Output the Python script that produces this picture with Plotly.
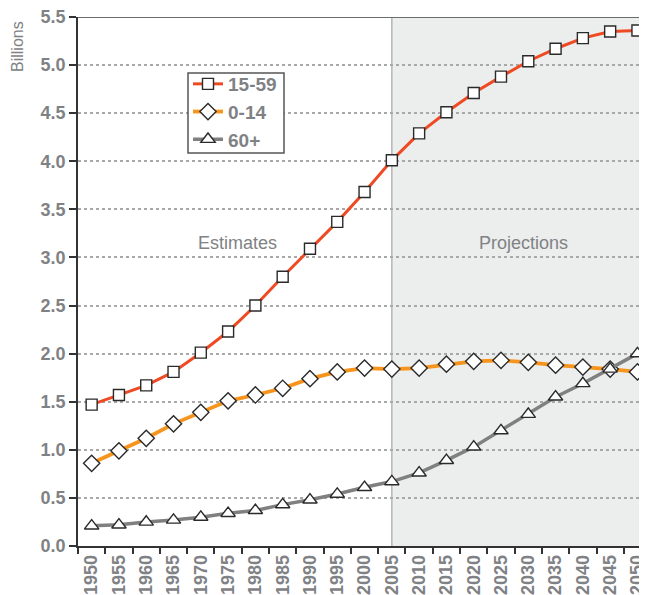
import plotly.graph_objects as go

years = [str(y) for y in range(1950, 2051, 5)]
age_15_59 = [1.47, 1.57, 1.67, 1.81, 2.01, 2.23, 2.50, 2.80, 3.09, 3.37, 3.68,
             4.01, 4.29, 4.51, 4.71, 4.88, 5.04, 5.17, 5.28, 5.35, 5.36]
age_0_14 = [0.86, 0.99, 1.12, 1.27, 1.39, 1.51, 1.57, 1.64, 1.74, 1.81, 1.85,
            1.84, 1.85, 1.89, 1.92, 1.93, 1.91, 1.88, 1.86, 1.84, 1.81]
age_60p = [0.21, 0.22, 0.25, 0.27, 0.30, 0.34, 0.37, 0.43, 0.48, 0.54, 0.61,
           0.67, 0.76, 0.89, 1.03, 1.20, 1.37, 1.55, 1.69, 1.84, 2.00]
y_ticks = [0.0, 0.5, 1.0, 1.5, 2.0, 2.5, 3.0, 3.5, 4.0, 4.5, 5.0, 5.5]

label_color = "#7f8285"
mk_line = dict(color="#2a2a2a", width=1.4)

# page body has an 8px margin; size the figure so it fits the window exactly
OFF = 8
W, H = 647 - OFF, 595 - OFF
px_left, px_right, px_top, px_bottom = 78, 647, 17, 546
L = px_left - OFF
T = px_top - OFF
R = W - (px_right - OFF)
B = H - (px_bottom - OFF)
pw = px_right - px_left
ph = px_bottom - px_top


def px(xs):
    return (xs - px_left) / pw


def py(ys):
    return (px_bottom - ys) / ph


fig = go.Figure()
fig.add_trace(go.Scatter(
    x=years, y=age_15_59, name="15-59", mode="lines+markers",
    line=dict(color="#EE4B24", width=3),
    marker=dict(symbol="square", size=11, color="white", line=mk_line)))
fig.add_trace(go.Scatter(
    x=years, y=age_0_14, name="0-14", mode="lines+markers",
    line=dict(color="#F7941D", width=3.8),
    marker=dict(symbol="diamond", size=12.5, color="white", line=mk_line)))
fig.add_trace(go.Scatter(
    x=years, y=age_60p, name="60+", mode="lines+markers",
    line=dict(color="#808080", width=3.5),
    marker=dict(symbol="triangle-up", size=12.5, color="white", line=mk_line)))

idx2005 = years.index("2005")
fig.add_shape(type="rect", xref="x", yref="y", x0=idx2005, x1=25, y0=0, y1=5.5,
              fillcolor="#ECEDED", line_width=0, layer="below")
fig.add_shape(type="line", xref="x", yref="y", x0=idx2005, x1=idx2005, y0=0, y1=5.5,
              line=dict(color="#b5b5b5", width=1.5), layer="below")
fig.add_shape(type="line", xref="paper", yref="y", x0=0, x1=1, y0=5.5, y1=5.5,
              line=dict(color="#6b6b6b", width=2))
# legend frame
fig.add_shape(type="rect", xref="paper", yref="paper",
              x0=px(188), x1=px(284), y0=py(153), y1=py(73),
              fillcolor="white", line=dict(color="#555555", width=1.5), layer="above")

fig.add_annotation(text="Estimates", x=5.33, y=3.15, xref="x", yref="y",
                   showarrow=False, font=dict(family="Liberation Sans", size=18, color="#808285"))
fig.add_annotation(text="Projections", x=15.81, y=3.15, xref="x", yref="y",
                   showarrow=False, font=dict(family="Liberation Sans", size=18, color="#808285"))
fig.add_annotation(text="Billions", x=px(18), y=py(47),
                   xref="paper", yref="paper", xanchor="center", yanchor="middle",
                   showarrow=False, textangle=-90,
                   font=dict(family="Liberation Sans", size=16, color="#808285"))

fig.update_layout(
    width=W, height=H,
    margin=dict(l=L, r=R, t=T, b=B, pad=0),
    paper_bgcolor="white", plot_bgcolor="white",
    showlegend=True,
    legend=dict(x=px(188), y=py(65), xanchor="left", yanchor="top",
                bgcolor="rgba(0,0,0,0)", borderwidth=0,
                font=dict(family="Liberation Sans", size=19, color=label_color, weight=700),
                itemwidth=30, tracegroupgap=0),
    xaxis=dict(type="category", range=[-0.5, 20.35], tickson="boundaries",
               automargin=False, ticklabeloverflow="allow",
               ticks="outside", ticklen=6, tickcolor="#333333", tickwidth=1.5,
               showline=True, linecolor="#333333", linewidth=1.5,
               showgrid=False, tickangle=-90,
               tickfont=dict(family="Liberation Sans", size=18, color=label_color, weight=700)),
    yaxis=dict(range=[0, 5.5], tickvals=y_ticks, ticktext=[f"{v:.1f}" for v in y_ticks],
               automargin=False, ticklabeloverflow="allow",
               ticks="outside", ticklen=7, tickcolor="#333333", tickwidth=1.5,
               showline=True, linecolor="#333333", linewidth=1.5,
               showgrid=True, gridcolor="#a8a8a8", griddash="dot", gridwidth=1.5,
               zeroline=False,
               tickfont=dict(family="Liberation Sans", size=18, color=label_color, weight=700)),
)

fig.write_html("out.html")
